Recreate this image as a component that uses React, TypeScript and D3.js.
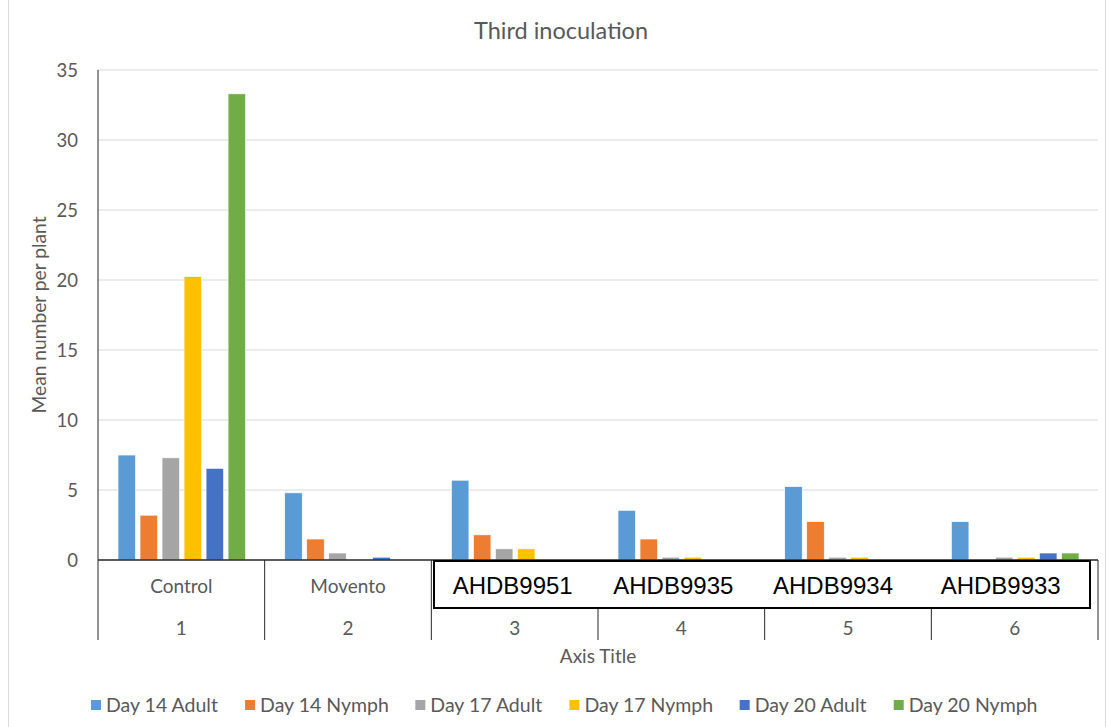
import React from "react";
import * as d3 from "d3";

const categories = ["1", "2", "3", "4", "5", "6"];
const groupLabels = ["Control", "Movento", "", "", "", ""];
const boxLabels = ["AHDB9951", "AHDB9935", "AHDB9934", "AHDB9933"];
const seriesNames = ["Day 14 Adult", "Day 14 Nymph", "Day 17 Adult", "Day 17 Nymph", "Day 20 Adult", "Day 20 Nymph"];
const day14Adult = [7.5, 4.8, 5.7, 3.55, 5.25, 2.75];
const day14Nymph = [3.2, 1.5, 1.8, 1.5, 2.75, 0];
const day17Adult = [7.3, 0.5, 0.8, 0.2, 0.2, 0.2];
const day17Nymph = [20.25, 0, 0.8, 0.2, 0.2, 0.2];
const day20Adult = [6.55, 0.2, 0, 0, 0, 0.5];
const day20Nymph = [33.3, 0, 0, 0, 0, 0.5];
const yTicks = [0, 5, 10, 15, 20, 25, 30, 35];
const colors = ["#5B9BD5", "#ED7D31", "#A5A5A5", "#FFC000", "#4472C4", "#70AD47"];

const series = [day14Adult, day14Nymph, day17Adult, day17Nymph, day20Adult, day20Nymph];

const W = 1107, H = 727;
const left = 98, right = 1098, top = 70, bottom = 560;
const FONT = "Lato, 'Open Sans', sans-serif";
const GREY = "#595959";

function measure(text: string, size: number) {
  const c = document.createElement("canvas").getContext("2d");
  if (!c) return text.length * size * 0.5;
  c.font = `${size}px Lato`;
  return c.measureText(text).width;
}

export default function App() {
  const x0 = d3.scaleBand<string>().domain(categories).range([left, right]).padding(0);
  const x1 = d3.scaleBand<string>().domain(seriesNames).range([20, x0.bandwidth() - 19]).paddingInner(0.2);
  const y = d3.scaleLinear().domain([0, 35]).range([bottom, top]);

  const legendSize = 19.5;
  const legendGap = 26;
  const legendWidths = seriesNames.map((s) => 15 + measure(s, legendSize) + legendGap);
  const totalLegend = d3.sum(legendWidths) - legendGap;
  let lx = 564.5 - totalLegend / 2;
  const legendX = legendWidths.map((w) => { const v = lx; lx += w; return v; });

  const bw = x0.bandwidth();

  return (
    <svg width={W} height={H} style={{ position: "absolute", left: 0, top: 0, background: "#fff" }} fontFamily={FONT}>
      <rect x={0} y={0} width={W} height={H} fill="#fff" />
      <line x1={8.5} y1={0} x2={8.5} y2={H} stroke="#d9d9d9" />
      <line x1={1105.5} y1={0} x2={1105.5} y2={H} stroke="#d9d9d9" />
      <text x={561} y={39} textAnchor="middle" fontSize={23.5} fill={GREY}>Third inoculation</text>
      {yTicks.map((t) => (
        <g key={t}>
          {t > 0 && <line x1={left} x2={right} y1={y(t)} y2={y(t)} stroke="#d9d9d9" strokeWidth={1} />}
          <text x={78} y={y(t) + 6.5} textAnchor="end" fontSize={18.5} fill={GREY}>{t}</text>
        </g>
      ))}
      <text transform={`translate(46,${(top + bottom) / 2}) rotate(-90)`} textAnchor="middle" fontSize={19.2} fill={GREY}>Mean number per plant</text>
      <line x1={left} x2={left} y1={top} y2={bottom} stroke="#262626" strokeWidth={1} />
      {categories.map((c, i) =>
        series.map((s, j) => (
          <rect key={c + j} x={x0(c)! + x1(seriesNames[j])!} width={x1.bandwidth()} y={y(s[i])} height={bottom - y(s[i])}
            fill={colors[j]} stroke="#fff" strokeWidth={0.7} />
        ))
      )}
      <line x1={left} x2={right} y1={bottom} y2={bottom} stroke="#262626" strokeWidth={1.5} />
      {categories.concat(["end"]).map((c, i) => {
        const xx = i < categories.length ? x0(c)! : right;
        const full = i <= 2 || i === categories.length;
        return <line key={"d" + i} x1={xx} x2={xx} y1={full ? bottom : 608} y2={640} stroke="#262626" strokeWidth={1} />;
      })}
      {categories.map((c, i) => (
        <g key={"l" + c}>
          {groupLabels[i] && <text x={x0(c)! + bw / 2} y={593} textAnchor="middle" fontSize={19} fill={GREY}>{groupLabels[i]}</text>}
          <text x={x0(c)! + bw / 2} y={635} textAnchor="middle" fontSize={19} fill={GREY}>{c}</text>
        </g>
      ))}
      <rect x={434} y={561} width={656} height={47} fill="#fff" stroke="#000" strokeWidth={2} />
      {boxLabels.map((b, i) => (
        <text key={b} x={x0(categories[i + 2])! + bw / 2 + [-2, -8, -15, -14][i]} y={594} textAnchor="middle" fontSize={24}
          fontFamily="'Liberation Sans', Arial, sans-serif" fill="#000">{b}</text>
      ))}
      <text x={598} y={663} textAnchor="middle" fontSize={19} fill={GREY}>Axis Title</text>
      {seriesNames.map((s, j) => (
        <g key={"lg" + s}>
          <rect x={legendX[j]} y={700} width={10} height={10} fill={colors[j]} />
          <text x={legendX[j] + 15} y={712} fontSize={legendSize} fill={GREY}>{s}</text>
        </g>
      ))}
    </svg>
  );
}
